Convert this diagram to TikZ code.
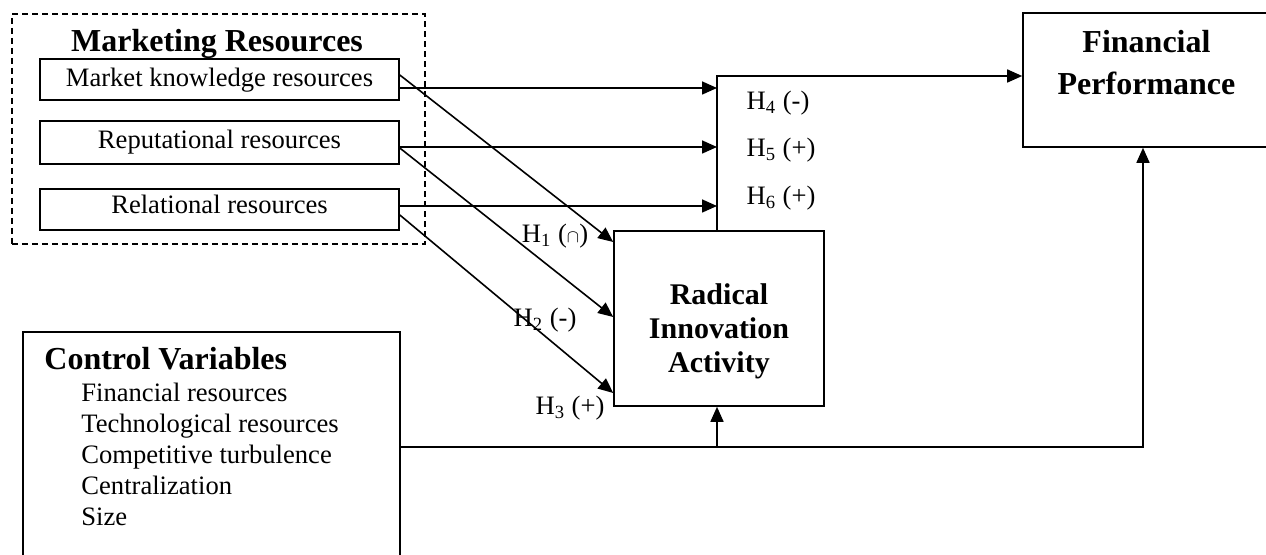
\documentclass[tikz,border=0pt]{standalone}
\usepackage{fontspec}
\setmainfont{Liberation Serif}
\usetikzlibrary{arrows.meta}

\begin{document}
\begin{tikzpicture}[x=0.5pt,y=-0.5pt,line join=miter,
  caixa/.style={draw,line width=0.8pt,inner sep=0pt},
  seta/.style={line width=0.8pt,-{Triangle[length=7.5pt,width=6.5pt]}},
  texto/.style={font=\fontsize{13.3}{16}\selectfont,inner sep=0pt},
  titulo/.style={font=\fontsize{16}{21}\selectfont\bfseries,inner sep=0pt},
  recurso/.style={caixa,texto,minimum width=179.5pt,text height=9pt}]

\useasboundingbox (0,0) rectangle (1266,555);
\clip (0,0) rectangle (1266,555);

%---------------------------
% recursos de marketing
%---------------------------
\node[draw,line width=0.8pt,dash pattern=on 3pt off 2pt,inner sep=0pt,
  anchor=north west,minimum width=206.5pt,minimum height=115pt] (mr) at (11,13) {};
\node[titulo,anchor=base] (mrtit) at (217,52) {Marketing Resources};

\node[recurso,minimum height=20.5pt,text depth=1.5pt] (mk)  at (219.5,79.5)  {Market knowledge resources};
\node[recurso,minimum height=21.5pt,text depth=3pt]   (rep) at (219.5,142.5) {Reputational resources};
\node[recurso,minimum height=20.5pt,text depth=5pt]   (rel) at (219.5,209.5) {Relational resources};

%---------------------------
% inovação radical e desempenho
%---------------------------
\node[caixa,minimum width=105pt,minimum height=87.5pt] (ria) at (719,318.5) {};
\node[titulo,font=\fontsize{15}{17}\selectfont\bfseries,align=center] (riatxt) at (719,331)
  {Radical\\Innovation\\Activity};

\node[caixa,minimum width=123.5pt,minimum height=67pt] (fp) at (1146.5,80) {};
\node[titulo,align=center] (fptxt) at (1146.5,63) {Financial\\Performance};

%---------------------------
% variáveis de controle
%---------------------------
\node[caixa,anchor=north west,minimum width=188.5pt,minimum height=120pt] (ctrl) at (22,331) {};
\node[titulo,anchor=base west] (ctrltit) at (44,370) {Control Variables};
\foreach \txt [count=\i] in {Financial resources,Technological resources,
    Competitive turbulence,Centralization,Size}
  \node[texto,anchor=base west] (cv\i) at (81,{371+31*\i}) {\txt};

%---------------------------
% ligações
%---------------------------
\coordinate (jun) at (717,76);
\coordinate (cx) at (1143,447);

\draw[seta] (mk.east |- 0,88)   -- (jun |- 0,88);
\draw[seta] (rep.east |- 0,147) -- (jun |- 0,147);
\draw[seta] (rel.east |- 0,206) -- (jun |- 0,206);

\draw[seta] (mk.east |- 0,75)   -- (ria.west |- 0,242);
\draw[seta] (rep.east |- 0,148) -- (ria.west |- 0,317);
\draw[seta] (rel.east |- 0,215) -- (ria.west |- 0,393);

\draw[seta] (ria.north -| jun) -- (jun) -- (jun -| fp.west);

\draw[seta] (ctrl.east |- cx) -- (cx) -- (cx |- fp.south);
\draw[seta] (jun |- cx) -- (jun |- ria.south);

%---------------------------
% hipóteses
%---------------------------
\node[texto] (h1) at (555,236) {H\textsubscript{1} ($\scriptstyle\cap$)};
\node[texto] (h2) at (545,320) {H\textsubscript{2} (-)};
\node[texto] (h3) at (570,408) {H\textsubscript{3} (+)};
\node[texto] (h4) at (778,103) {H\textsubscript{4} (-)};
\node[texto] (h5) at (781,150) {H\textsubscript{5} (+)};
\node[texto] (h6) at (781,198) {H\textsubscript{6} (+)};

\end{tikzpicture}
\end{document}
